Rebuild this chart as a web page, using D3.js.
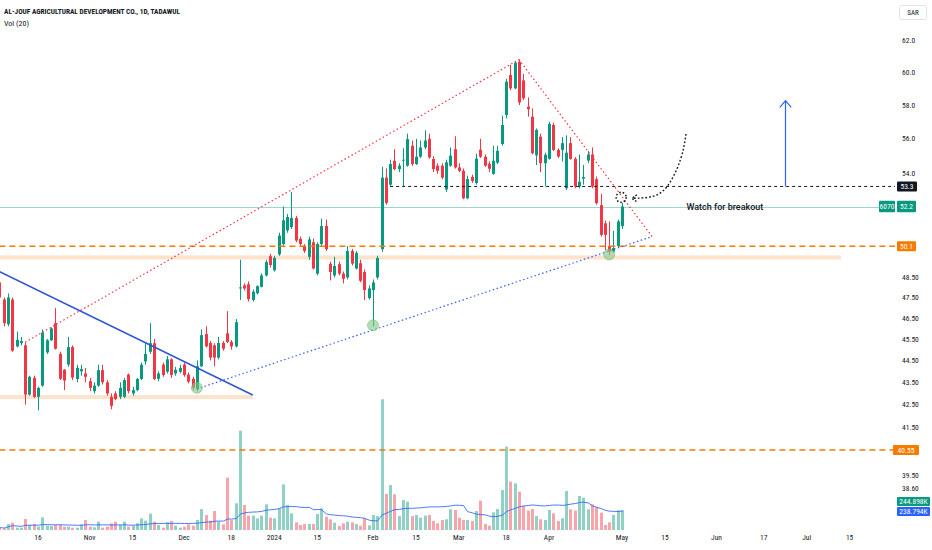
<!DOCTYPE html>
<html>
<head>
<meta charset="utf-8">
<script src="https://cdn.jsdelivr.net/npm/d3@7"></script>
<style>
  body { margin: 0; background: #fff; }
  svg { display: block; font-family: "Liberation Sans Narrow", "Roboto Condensed", "Roboto", sans-serif; }
</style>
</head>
<body>
<div id="chart"></div>
<script>
// ---- data ----
const opens = [48.25,47.4,46.2,47.4,45.15,45.3,45.2,42.95,43.7,42.85,
  43.35,44.87,45.44,46.25,44.8,44.07,44.31,45.12,43.65,44.0,
  43.9,43.55,43.1,43.35,44.05,43.5,42.85,43.0,42.85,42.85,
  43.85,43.0,43.15,43.65,44.45,44.9,45.3,43.66,44.3,43.98,
  44.55,43.9,43.98,44.31,43.85,43.66,43.2,44.23,45.73,45.31,
  45.2,44.63,45.31,45.77,45.36,45.15,47.95,48.1,48.16,47.38,
  47.71,48.03,48.6,49.58,48.86,49.67,50.21,50.92,51.1,51.59,
  50.48,50.12,49.55,50.3,48.69,50.21,51.16,49.19,48.6,49.17,
  48.69,48.5,49.85,48.95,49.22,48.77,47.47,47.87,48.5,49.94,
  53.79,53.4,54.74,54.27,54.75,54.46,55.6,54.55,54.97,55.5,
  56.0,54.84,54.46,54.46,53.13,54.46,55.4,54.36,54.17,52.65,
  53.83,53.49,55.37,54.97,54.57,54.0,54.63,55.7,57.4,59.83,
  59.01,60.66,59.5,57.9,57.3,55.05,56.13,54.6,54.85,56.81,
  55.36,55.36,53.2,55.75,54.85,53.3,53.73,54.75,55.1,53.7,
  52.28,51.3,50.1,49.82,50.1,51.15]
const highs = [48.4,47.5,47.7,47.5,45.85,45.6,45.35,43.8,43.8,43.3,
  45.95,45.5,46.05,46.98,44.9,44.1,45.6,45.2,44.3,44.3,
  44.15,43.7,43.5,44.3,44.3,43.6,43.0,43.1,43.5,43.7,
  43.9,43.3,43.7,44.4,45.3,46.25,45.5,44.0,44.4,44.7,
  44.6,44.2,44.3,44.4,43.95,43.75,44.5,45.95,46.1,45.4,
  45.3,45.6,45.4,46.83,45.45,46.45,49.4,48.2,48.3,47.9,
  48.1,48.7,49.4,49.7,49.6,50.8,52.2,51.8,53.0,51.7,
  50.6,50.2,50.6,50.5,50.3,51.55,51.5,49.3,49.55,49.3,
  48.8,50.1,49.95,49.85,49.4,48.9,48.1,48.4,49.6,54.4,
  54.3,54.8,55.4,54.6,55.45,56.3,55.9,56.0,55.9,56.5,
  56.3,55.0,54.6,54.6,54.8,55.5,56.15,54.6,54.3,53.9,
  53.95,55.15,56.0,55.1,54.7,55.6,55.6,57.36,59.6,60.46,
  60.7,60.8,59.9,58.46,57.8,56.6,56.3,55.2,57.0,56.95,
  55.45,56.1,56.2,56.1,54.95,55.1,54.5,55.3,55.5,53.85,
  52.9,51.45,51.4,50.9,51.5,52.4]
const lows = [47.4,46.1,46.1,44.9,45.1,45.2,42.5,42.9,42.8,42.25,
  43.3,44.8,45.4,45.0,43.6,43.15,44.2,43.6,43.5,43.8,
  43.5,43.1,43.0,43.3,43.4,42.9,42.3,42.7,42.75,42.8,
  43.0,42.9,43.1,43.6,44.3,44.8,43.6,43.55,43.75,43.9,
  43.7,43.8,43.9,43.75,43.45,43.15,43.1,44.2,45.1,44.5,
  44.23,44.55,44.95,45.3,45.0,45.1,47.38,47.85,47.3,47.3,
  47.65,48.0,48.55,49.0,48.8,49.6,50.1,50.8,51.0,50.3,
  50.1,49.75,49.4,48.9,48.6,50.1,49.85,48.35,48.5,48.6,
  48.2,48.4,49.1,48.9,48.25,47.38,47.4,46.1,48.4,49.8,
  52.3,53.3,54.2,54.1,53.3,54.4,54.45,54.5,54.9,55.4,
  54.85,54.1,54.0,53.7,53.0,54.4,54.3,54.1,52.6,52.6,
  53.5,53.4,54.9,54.4,54.1,53.95,54.55,55.6,57.2,58.9,
  58.95,58.0,58.3,57.3,55.1,54.5,54.1,53.3,54.8,55.3,
  54.9,54.7,53.1,54.8,53.2,53.2,53.4,54.6,53.2,52.3,
  50.6,49.9,49.65,49.75,50.0,51.0]
const closes = [47.5,46.25,47.5,44.95,45.45,45.4,42.95,43.75,42.85,43.25,
  45.8,45.44,46.0,45.04,43.66,43.58,45.12,43.71,44.15,44.1,
  43.75,43.25,43.35,44.05,43.5,43.0,42.45,42.75,43.25,43.6,
  43.1,43.15,43.65,44.3,44.8,45.3,43.65,43.9,43.83,44.55,
  43.83,44.07,44.15,43.83,43.53,43.26,44.23,45.68,45.15,44.63,
  44.63,45.31,45.04,45.36,45.15,46.3,48.0,47.95,47.42,47.79,
  48.06,48.6,49.28,49.13,49.49,50.65,51.46,51.64,51.59,50.39,
  50.21,49.85,50.45,48.95,50.21,51.16,49.94,48.77,49.08,48.69,
  48.43,49.85,49.2,49.75,48.33,47.87,47.95,48.25,49.49,53.79,
  52.4,54.55,54.27,54.46,54.8,55.98,54.55,54.97,55.5,55.9,
  54.93,54.27,54.17,53.79,54.65,55.03,54.36,54.17,52.65,53.71,
  53.6,54.86,54.97,54.46,54.29,54.74,55.31,56.81,59.42,59.01,
  60.6,58.15,58.4,57.75,55.17,56.52,54.6,55.08,56.87,55.36,
  54.98,55.75,55.2,54.85,53.3,53.56,53.82,55.1,53.3,52.38,
  50.69,50.69,49.82,50.0,51.4,52.2]
// volume in thousands
const volumes = [29,20,73,90,29,29,135,61,73,41,
  155,53,49,61,61,41,41,29,29,69,
  122,41,33,102,29,41,82,102,61,102,
  41,53,82,143,114,200,102,61,29,94,
  110,53,29,41,69,53,122,257,184,114,
  233,102,69,641,122,327,1216,306,176,176,
  143,176,314,151,143,265,559,306,204,94,
  61,73,73,73,196,265,163,131,90,49,
  82,102,94,73,53,143,57,184,171,1600,
  441,551,437,171,367,347,171,184,151,176,
  184,110,82,122,131,253,245,151,122,122,
  110,233,359,73,53,216,257,490,1020,592,
  571,469,294,237,257,171,131,122,245,204,
  110,143,478,253,237,416,396,253,314,278,
  212,61,94,184,240,244.9]

// trading calendar (Sun-Thu), market holidays in the history part
const firstDay = '2023-10-03'
const lastDay = '2024-08-01'
const holidays = ['2024-02-22', '2024-04-07', '2024-04-08', '2024-04-09', '2024-04-10', '2024-04-11']

const dateTicks = [
  ['2023-10-16', '16'], ['2023-11-01', 'Nov'], ['2023-11-15', '15'], ['2023-12-03', 'Dec'],
  ['2023-12-18', '18'], ['2024-01-01', '2024'], ['2024-01-15', '15'], ['2024-02-01', 'Feb'],
  ['2024-02-15', '15'], ['2024-03-03', 'Mar'], ['2024-03-18', '18'], ['2024-04-01', 'Apr'],
  ['2024-05-01', 'May'], ['2024-05-15', '15'], ['2024-06-02', 'Jun'], ['2024-06-17', '17'],
  ['2024-07-01', 'Jul'], ['2024-07-15', '15']
]
const priceTicks = ['62.0', '60.0', '58.0', '56.0', '54.0', '48.50', '47.50', '46.50', '45.50',
  '44.50', '43.50', '42.50', '41.50', '39.50', '38.60']

// drawings, in [bar index, price]
const channelTop = [[6, 45.35], [121, 60.8]]
const wedgeTop = [[121, 60.8], [152, 50.6]]
const wedgeBottom = [[46, 43.2], [152, 50.6]]
const downTrend = [[0, 48.8], [59, 42.93]]
const touches = [[46, 43.25], [87, 46.15], [142, 49.67]]
const zones = [[0, 196, 49.41, 49.62], [0, 59, 42.75, 42.93]]
const supportLevel = 50.1
const lowLevel = 40.55
const breakLevel = 53.3
const breakStart = 91
const lastPrice = 52.2
const targetArrow = [[183, 53.3], [183, 58.26]]
const hintCurve = [[159.9, 56.28], [158.6, 54.8], [155.4, 53.27], [151.5, 52.72], [147.3, 52.65]]
const breakPoint = [144.8, 52.7]
const note = [160, 52.2, 'Watch for breakout']

const upColor = '#089981'
const downColor = '#F23645'

// ---- dimensions ----
const dims = { width: 932, height: 550, plotRight: 895, volBase: 530 }

const fmt = d3.utcFormat('%Y-%m-%d')
const days = d3.utcDays(new Date(firstDay), new Date(lastDay))
  .filter(d => d.getUTCDay() !== 5 && d.getUTCDay() !== 6 && !holidays.includes(fmt(d)))
const dayIndex = new Map(days.map((d, i) => [fmt(d), i]))

const x = d3.scaleLinear().domain([0, 198]).range([-0.6, 849.6])
const y = d3.scaleLog().domain([38.6, 62]).range([497.5, 40.7])
const yVol = d3.scaleLinear().domain([0, 1600]).range([dims.volBase, 399.3])
const xc = i => Math.round(x(i)) + 0.5

const svg = d3.select('#chart').append('svg')
  .attr('width', dims.width)
  .attr('height', dims.height)

svg.append('rect').attr('width', dims.width).attr('height', dims.height).attr('fill', '#fff')

svg.append('defs').append('clipPath').attr('id', 'plot')
  .append('rect').attr('width', dims.plotRight).attr('height', dims.volBase)

const plot = svg.append('g').attr('clip-path', 'url(#plot)')

const bars = d3.range(opens.length).map(i => ({
  i, o: opens[i], h: highs[i], l: lows[i], c: closes[i], v: volumes[i]
}))
const colorOf = d => d.c >= d.o ? upColor : downColor

// zones
plot.append('g').selectAll('rect').data(zones).join('rect')
  .attr('x', d => x(d[0]))
  .attr('width', d => x(d[1]) - x(d[0]))
  .attr('y', d => y(d[3]))
  .attr('height', d => y(d[2]) - y(d[3]))
  .attr('fill', '#fde3cc')

// volume
plot.append('g').selectAll('rect').data(bars).join('rect')
  .attr('x', d => xc(d.i) - 1.5)
  .attr('width', 3)
  .attr('y', d => yVol(d.v))
  .attr('height', d => dims.volBase - yVol(d.v))
  .attr('fill', colorOf)
  .attr('opacity', 0.45)

const volMa = volumes.map((v, i) => d3.mean(volumes.slice(Math.max(0, i - 19), i + 1)))
plot.append('path')
  .datum(volMa)
  .attr('fill', 'none')
  .attr('stroke', '#2962FF')
  .attr('stroke-width', 1)
  .attr('opacity', 0.85)
  .attr('d', d3.line().x((d, i) => xc(i)).y(d => yVol(d)))

// last price line
plot.append('line')
  .attr('x1', 0).attr('x2', dims.plotRight)
  .attr('y1', Math.round(y(lastPrice)) + 0.5).attr('y2', Math.round(y(lastPrice)) + 0.5)
  .attr('stroke', upColor).attr('stroke-opacity', 0.4)

// candles
plot.append('g').selectAll('line').data(bars).join('line')
  .attr('x1', d => xc(d.i)).attr('x2', d => xc(d.i))
  .attr('y1', d => y(d.h)).attr('y2', d => y(d.l))
  .attr('stroke', colorOf)

plot.append('g').selectAll('rect').data(bars).join('rect')
  .attr('x', d => xc(d.i) - 1.5)
  .attr('width', 3)
  .attr('y', d => y(Math.max(d.o, d.c)))
  .attr('height', d => Math.max(1, Math.abs(y(d.o) - y(d.c))))
  .attr('fill', colorOf)

// horizontal levels
const hLines = [
  { p: supportLevel, from: 0, color: '#F57C00', dash: '6,4', w: 1.5 },
  { p: lowLevel, from: 0, color: '#F57C00', dash: '6,4', w: 1.5 },
  { p: breakLevel, from: breakStart, color: '#131722', dash: '3,3', w: 1 }
]
plot.append('g').selectAll('line').data(hLines).join('line')
  .attr('x1', d => x(d.from)).attr('x2', dims.plotRight)
  .attr('y1', d => y(d.p)).attr('y2', d => y(d.p))
  .attr('stroke', d => d.color)
  .attr('stroke-width', d => d.w)
  .attr('stroke-dasharray', d => d.dash)

// trend lines
const seg = d3.line().x(d => x(d[0])).y(d => y(d[1]))
const trends = [
  { pts: channelTop, color: '#F23645', dash: '1.5,2.5', w: 1.2 },
  { pts: wedgeTop, color: '#F23645', dash: '1.5,2.5', w: 1.2 },
  { pts: wedgeBottom, color: '#3D5AFE', dash: '1.5,2.5', w: 1.2 },
  { pts: downTrend, color: '#2f55d4', dash: null, w: 1.6 }
]
plot.append('g').selectAll('path').data(trends).join('path')
  .attr('d', d => seg(d.pts))
  .attr('fill', 'none')
  .attr('stroke', d => d.color)
  .attr('stroke-width', d => d.w)
  .attr('stroke-dasharray', d => d.dash)

// touch circles
plot.append('g').selectAll('circle').data(touches).join('circle')
  .attr('cx', d => x(d[0])).attr('cy', d => y(d[1]))
  .attr('r', 5.5)
  .attr('fill', '#81c784').attr('fill-opacity', 0.6)
  .attr('stroke', '#66bb6a').attr('stroke-opacity', 0.5)

// breakout hint
plot.append('circle')
  .attr('cx', x(breakPoint[0])).attr('cy', y(breakPoint[1]))
  .attr('r', 5)
  .attr('fill', 'none')
  .attr('stroke', '#131722').attr('stroke-width', 1.6)
  .attr('stroke-dasharray', '1.5,2')

plot.append('path')
  .datum(hintCurve)
  .attr('d', d3.line().x(d => x(d[0])).y(d => y(d[1])).curve(d3.curveNatural))
  .attr('fill', 'none')
  .attr('stroke', '#131722').attr('stroke-width', 1.4)
  .attr('stroke-dasharray', '1.8,2')

const tip = hintCurve[hintCurve.length - 1]
plot.append('path')
  .attr('d', `M${x(tip[0]) + 5},${y(tip[1]) - 3.5}L${x(tip[0])},${y(tip[1])}L${x(tip[0]) + 5},${y(tip[1]) + 3.5}`)
  .attr('fill', 'none')
  .attr('stroke', '#131722').attr('stroke-width', 1.4)
  .attr('stroke-dasharray', '1.8,1.5')

plot.append('text')
  .attr('x', x(note[0])).attr('y', y(note[1]))
  .attr('dy', '0.35em')
  .attr('font-size', 9)
  .attr('font-family', 'Roboto, sans-serif')
  .attr('font-weight', 500)
  .attr('fill', '#131722')
  .text(note[2])

// target arrow
const ax = Math.round(x(targetArrow[0][0])) + 0.5
const ay0 = y(targetArrow[0][1]), ay1 = y(targetArrow[1][1])
plot.append('path')
  .attr('d', `M${ax},${ay0}L${ax},${ay1}M${ax - 5.7},${ay1 + 6.6}L${ax},${ay1}L${ax + 5.7},${ay1 + 6.6}`)
  .attr('fill', 'none')
  .attr('stroke', '#2962FF').attr('stroke-width', 1.2)

// ---- texts ----
svg.append('text')
  .attr('x', 4).attr('y', 14)
  .attr('font-size', 8).attr('font-weight', 'bold').attr('fill', '#131722')
  .attr('textLength', 176).attr('lengthAdjust', 'spacingAndGlyphs')
  .text('AL-JOUF AGRICULTURAL DEVELOPMENT CO., 1D, TADAWUL')
svg.append('text')
  .attr('x', 4).attr('y', 26)
  .attr('font-size', 8).attr('fill', '#131722')
  .text('Vol (20)')

// x axis labels
svg.append('g').selectAll('text').data(dateTicks).join('text')
  .attr('x', d => x(dayIndex.get(d[0])))
  .attr('y', 537)
  .attr('dy', '0.35em')
  .attr('text-anchor', 'middle')
  .attr('font-size', 7.5)
  .attr('fill', '#131722')
  .text(d => d[1])

// price axis labels
svg.append('g').selectAll('text').data(priceTicks).join('text')
  .attr('x', 902)
  .attr('y', d => Math.min(y(+d), 488))
  .attr('dy', '0.35em')
  .attr('font-size', 7.5)
  .attr('fill', '#131722')
  .text(d => d)

// axis tags
function tag(x0, yc, w, label, fill, color = '#fff', h = 10) {
  svg.append('rect')
    .attr('x', x0).attr('y', yc - h / 2)
    .attr('width', w).attr('height', h)
    .attr('rx', 1)
    .attr('fill', fill)
  svg.append('text')
    .attr('x', x0 + w / 2).attr('y', yc)
    .attr('dy', '0.35em')
    .attr('text-anchor', 'middle')
    .attr('font-size', 7.5)
    .attr('fill', color)
    .text(label)
}

svg.append('rect')
  .attr('x', 899.5).attr('y', 5.5).attr('width', 27).attr('height', 14).attr('rx', 2)
  .attr('fill', '#fff').attr('stroke', '#e0e3eb')
svg.append('text')
  .attr('x', 913).attr('y', 12.5).attr('dy', '0.35em').attr('text-anchor', 'middle')
  .attr('font-size', 7).attr('fill', '#131722').text('SAR')

tag(897, y(breakLevel), 20, '53.3', '#131722')
tag(879, y(lastPrice), 16, '6070', upColor, '#fff', 11.5)
tag(897, y(lastPrice), 19, '52.2', upColor, '#fff', 11.5)
tag(897, y(supportLevel), 19, '50.1', '#F57C00')
tag(893, y(lowLevel), 26, '40.55', '#F57C00')
const volTagY = yVol(volumes[volumes.length - 1]) - 8.5
tag(897, volTagY, 33, '244.898K', upColor, '#fff', 9)
tag(897, volTagY + 10, 33, '238.794K', '#2962FF', '#fff', 9)
</script>
</body>
</html>
